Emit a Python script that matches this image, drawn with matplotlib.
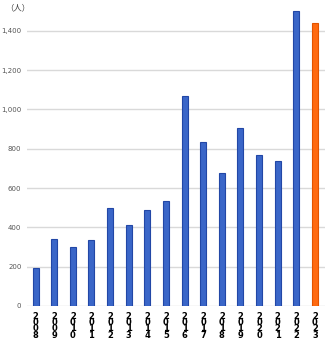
"""Yearly headcount bar chart, 2008-2023 (latest year highlighted)."""
import matplotlib
matplotlib.use("Agg")
import matplotlib.pyplot as plt

years = [2008, 2009, 2010, 2011, 2012, 2013, 2014, 2015,
         2016, 2017, 2018, 2019, 2020, 2021, 2022, 2023]
people = [192, 339, 299, 334, 500, 412, 487, 534,
          1067, 833, 675, 907, 768, 736, 1503, 1440]
yticks = [0, 200, 400, 600, 800, 1000, 1200, 1400]

plt.rcParams["font.family"] = ["Noto Sans CJK JP", "DejaVu Sans"]

fig = plt.figure(figsize=(3.25, 3.41), dpi=100)
# axes box in pixels: left 27, bottom at y=306 (from top), top at 0
ax = fig.add_axes([27 / 325, 35 / 341, 298 / 325, 306 / 341])

x = list(range(len(years)))
colors = ["#3A66C8"] * (len(years) - 1) + ["#FF6A10"]
edges = ["#2247A6"] * (len(years) - 1) + ["#E25300"]
ax.bar(x, people, 0.32, color=colors, edgecolor=edges, linewidth=0.8, zorder=3)

ax.set_xlim(-0.46, 15.54)
ax.set_ylim(0, 1557)
ax.set_yticks(yticks)
ax.set_yticklabels([f"{v:,}" for v in yticks], fontsize=5, color="#555555",
                   family="DejaVu Sans")
ax.yaxis.grid(True, color="#D9D9D9", linewidth=1.0, zorder=0)
ax.tick_params(axis="y", length=0, pad=4)

ax.set_xticks(x)
ax.set_xticklabels(["\n".join(str(y)) for y in years], fontsize=6,
                   fontweight="bold", linespacing=0.62, family="DejaVu Sans")
ax.tick_params(axis="x", length=0, pad=4)

for s in ax.spines.values():
    s.set_visible(False)

fig.text(5 / 325, 1 - 8 / 341, "（人）", fontsize=6, color="#444444", va="center")

fig.savefig("out.png", dpi=100)
